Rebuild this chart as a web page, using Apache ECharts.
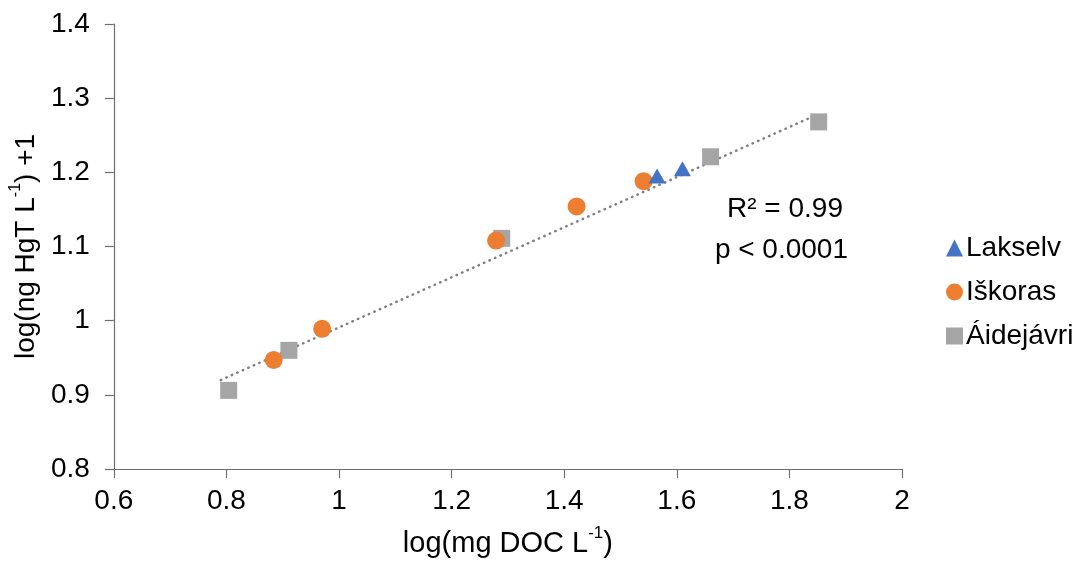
<!DOCTYPE html>
<html>
<head>
<meta charset="utf-8">
<script src="https://cdn.jsdelivr.net/npm/echarts@6/dist/echarts.min.js"></script>
<style>
  html, body { margin: 0; padding: 0; background: #fff; }
  #chart { width: 1081px; height: 563px; }
</style>
</head>
<body>
<div id="chart"></div>
<script>
// log(mg DOC L-1) vs log(ng HgT L-1)+1 for three sites
const laksX = [1.565, 1.610];
const laksY = [1.195, 1.205];

const iskX = [0.884, 0.970, 1.279, 1.422, 1.541];
const iskY = [0.947, 0.989, 1.108, 1.154, 1.188];

const aidX = [0.804, 0.911, 1.289, 1.660, 1.852];
const aidY = [0.906, 0.960, 1.111, 1.221, 1.268];

// fitted linear trend, end points
const trendX = [0.79, 1.85];
const trendY = [0.920, 1.278];

const xTicks = [0.6, 0.8, 1, 1.2, 1.4, 1.6, 1.8, 2];
const yTicks = [0.8, 0.9, 1, 1.1, 1.2, 1.3, 1.4];

const statLines = ['R² = 0.99', 'p < 0.0001'];

const zip = (xs, ys) => xs.map((x, i) => [x, ys[i]]);
const FONT = 'Liberation Sans, Arial, sans-serif';
const AXIS_COLOR = '#6e6e6e';

const tickFormatter = ticks => v => {
  const t = ticks.find(k => Math.abs(k - v) < 1e-6);
  return t === undefined ? '' : String(t);
};

const titleRich = size => ({
  n: { fontSize: size, color: '#000', fontFamily: FONT, lineHeight: size + 4, verticalAlign: 'bottom' },
  s: { fontSize: Math.round(size * 0.58), color: '#000', fontFamily: FONT, lineHeight: size + 4, verticalAlign: 'top' }
});

const chart = echarts.init(document.getElementById('chart'));
chart.setOption({
  animation: false,
  backgroundColor: '#ffffff',
  textStyle: { fontFamily: FONT },
  grid: { left: 112, right: 179, top: 24, bottom: 93 },
  xAxis: {
    type: 'value', min: 0.6, max: 2, interval: 0.2,
    axisLine: { lineStyle: { color: AXIS_COLOR, width: 1.2 } },
    axisTick: { show: true, length: 9, lineStyle: { color: AXIS_COLOR, width: 1.2 } },
    splitLine: { show: false },
    axisLabel: {
      color: '#000', fontSize: 28, margin: 18, fontFamily: FONT,
      formatter: tickFormatter(xTicks)
    },
    name: '{n|log(mg DOC L}{s|-1}{n|)}',
    nameLocation: 'middle', nameGap: 56,
    nameTextStyle: { rich: titleRich(29) }
  },
  yAxis: {
    type: 'value', min: 0.8, max: 1.4, interval: 0.1,
    axisLine: { show: true, lineStyle: { color: AXIS_COLOR, width: 1.2 } },
    axisTick: { show: true, length: 9, lineStyle: { color: AXIS_COLOR, width: 1.2 } },
    splitLine: { show: false },
    axisLabel: {
      color: '#000', fontSize: 28, margin: 24, fontFamily: FONT,
      formatter: tickFormatter(yTicks)
    },
    name: '{n|log(ng HgT L}{s|-1}{n|) +1}',
    nameLocation: 'middle', nameGap: 70, nameRotate: 90,
    nameTextStyle: { rich: titleRich(28) }
  },
  legend: {
    orient: 'vertical', left: 941, top: 229, itemGap: 16,
    itemWidth: 17, itemHeight: 17,
    textStyle: { fontSize: 28, color: '#000', fontFamily: FONT, padding: [0, 0, 0, -2] },
    data: [
      { name: 'Lakselv', icon: 'triangle' },
      { name: 'Iškoras', icon: 'circle' },
      { name: 'Áidejávri', icon: 'rect' }
    ]
  },
  graphic: [
    { type: 'text', x: 843, y: 209, style: { text: statLines[0], font: '28px ' + FONT, fill: '#000', align: 'right', verticalAlign: 'middle' } },
    { type: 'text', x: 848, y: 250, style: { text: statLines[1], font: '28px ' + FONT, fill: '#000', align: 'right', verticalAlign: 'middle' } }
  ],
  series: [
    {
      name: 'trend', type: 'line', data: zip(trendX, trendY),
      symbol: 'none', silent: true, z: 1,
      lineStyle: { color: '#7f7f7f', width: 2.5, type: [0.5, 5.5], cap: 'round' }
    },
    {
      name: 'Áidejávri', type: 'scatter', data: zip(aidX, aidY),
      symbol: 'rect', symbolSize: 17, z: 2,
      itemStyle: { color: '#a5a5a5', opacity: 1 }
    },
    {
      name: 'Iškoras', type: 'scatter', data: zip(iskX, iskY),
      symbol: 'circle', symbolSize: 18, z: 3,
      itemStyle: { color: '#ed7d31', opacity: 1 }
    },
    {
      name: 'Lakselv', type: 'scatter', data: zip(laksX, laksY),
      symbol: 'triangle', symbolSize: [17, 15], z: 4,
      itemStyle: { color: '#4472c4', opacity: 1 }
    }
  ]
});
</script>
</body>
</html>
